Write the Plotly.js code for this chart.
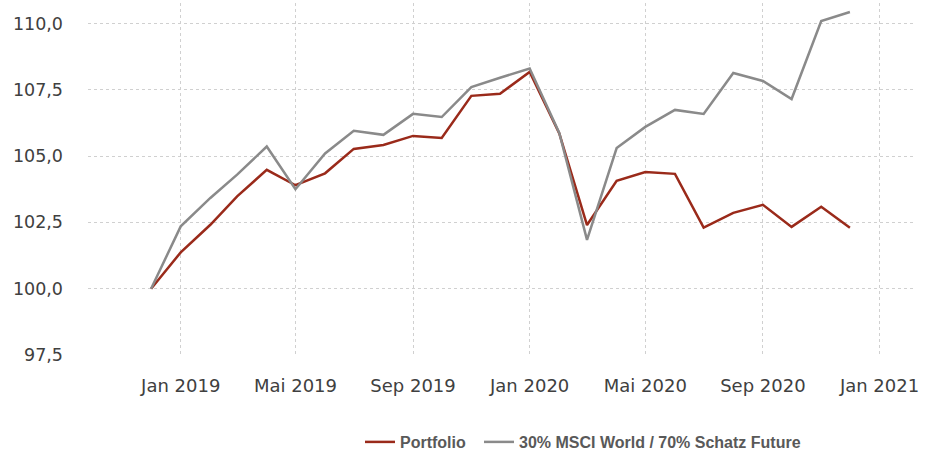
<!DOCTYPE html>
<html>
<head>
<meta charset="utf-8">
<script src="https://cdn.plot.ly/plotly-3.0.1.min.js"></script>
<style>
html, body { margin: 0; padding: 0; background: #fff; }
#chart { width: 934px; height: 453px; }
</style>
</head>
<body>
<div id="chart"></div>
<script>
const months = [
  '2018-12-01','2019-01-01','2019-02-01','2019-03-01','2019-04-01','2019-05-01','2019-06-01',
  '2019-07-01','2019-08-01','2019-09-01','2019-10-01','2019-11-01','2019-12-01','2020-01-01',
  '2020-02-01','2020-03-01','2020-04-01','2020-05-01','2020-06-01','2020-07-01','2020-08-01',
  '2020-09-01','2020-10-01','2020-11-01','2020-12-01'
];
const portfolio = [100.0, 101.37, 102.41, 103.48, 104.48, 103.9, 104.35, 105.27, 105.42, 105.76,
  105.68, 107.27, 107.35, 108.17, 105.85, 102.4, 104.07, 104.4, 104.33, 102.3, 102.86, 103.16,
  102.33, 103.09, 102.3];
const benchmark = [100.0, 102.35, 103.42, 104.3, 105.36, 103.75, 105.1, 105.95, 105.8, 106.59,
  106.47, 107.6, 107.95, 108.3, 105.87, 101.84, 105.3, 106.1, 106.74, 106.59, 108.13, 107.83,
  107.15, 110.09, 110.43];
const seriesNames = ['Portfolio', '30% MSCI World / 70% Schatz Future'];
const xTickVals = ['2019-01-01','2019-05-01','2019-09-01','2020-01-01','2020-05-01','2020-09-01','2021-01-01'];
const xTickText = ['Jan 2019','Mai 2019','Sep 2019','Jan 2020','Mai 2020','Sep 2020','Jan 2021'];
const yTickVals = [97.5, 100, 102.5, 105, 107.5, 110];
const yTickText = ['97,5','100,0','102,5','105,0','107,5','110,0'];

const traces = [
  {x: months, y: portfolio, name: seriesNames[0], type: 'scatter', mode: 'lines',
   line: {color: '#9a2a1a', width: 2.5}, legend: 'legend'},
  {x: months, y: benchmark, name: seriesNames[1], type: 'scatter', mode: 'lines',
   line: {color: '#8a8a8a', width: 2.5}, legend: 'legend2'}
];

const legendFont = {family: 'Liberation Sans, Arial, sans-serif', size: 16, color: '#595959', weight: 'bold'};
const layout = {
  width: 934, height: 453,
  margin: {l: 88, r: 21, t: 3, b: 98},
  paper_bgcolor: '#ffffff', plot_bgcolor: '#ffffff',
  showlegend: true,
  legend: {orientation: 'h', x: 360 / 934, xanchor: 'left', xref: 'container',
           y: 11 / 453, yanchor: 'middle', yref: 'container', font: legendFont},
  legend2: {orientation: 'h', x: 479 / 934, xanchor: 'left', xref: 'container',
           y: 11 / 453, yanchor: 'middle', yref: 'container', font: legendFont},
  xaxis: {
    type: 'date', range: ['2018-09-26', '2021-02-05'],
    tickmode: 'array', tickvals: xTickVals, ticktext: xTickText,
    showgrid: true, gridcolor: '#d0d0d0', griddash: 'dot', gridwidth: 1,
    zeroline: false, showline: false, ticks: '',
    ticklabelstandoff: 18,
    tickfont: {family: 'DejaVu Sans, sans-serif', size: 18, color: '#404040'}
  },
  yaxis: {
    range: [97.5, 110.77],
    tickmode: 'array', tickvals: yTickVals, ticktext: yTickText,
    showgrid: true, gridcolor: '#d0d0d0', griddash: 'dot', gridwidth: 1,
    zeroline: false, showline: false, ticks: '',
    ticklabelstandoff: 24,
    tickfont: {family: 'DejaVu Sans, sans-serif', size: 17.5, color: '#404040'}
  }
};

Plotly.newPlot('chart', traces, layout, {displayModeBar: false, staticPlot: true});
</script>
</body>
</html>
